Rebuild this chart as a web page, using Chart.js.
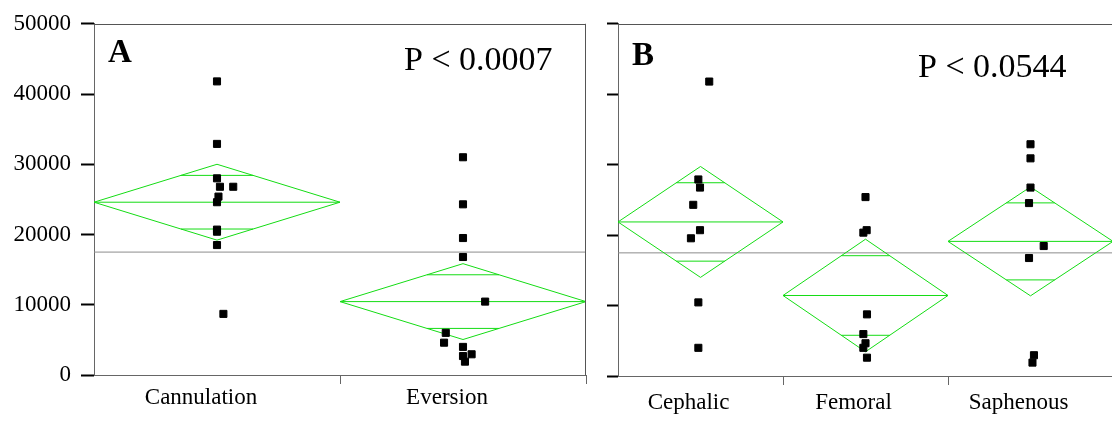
<!DOCTYPE html>
<html>
<head>
<meta charset="utf-8">
<script src="https://cdn.jsdelivr.net/npm/chart.js@4.4.1/dist/chart.umd.min.js"></script>
<style>
  html, body { margin: 0; padding: 0; background: #fff; }
  #wrap { position: relative; width: 1112px; height: 423px; overflow: hidden; background: #fff; }
  .panel { position: absolute; top: 0; }
</style>
</head>
<body>
<div id="wrap">
  <div class="panel" style="left:0;width:600px;height:423px"><canvas id="chartA" width="600" height="423"></canvas></div>
  <div class="panel" style="left:600px;width:530px;height:423px"><canvas id="chartB" width="530" height="423"></canvas></div>
</div>
<script>
// ---------- data ----------
const yTicks = [0, 10000, 20000, 30000, 40000, 50000];

// Panel A
const panelACategories = ['Cannulation', 'Eversion'];
const cannulationValues = [41800, 32900, 28000, 26800, 26800, 25400, 24600, 20700, 20400, 18500, 8700];
const cannulationJitter = [0, 0, 0, 0.012, 0.066, 0.006, 0, 0, 0, 0, 0.026];
const eversionValues = [31000, 24300, 19500, 16800, 10450, 6000, 4600, 4000, 2950, 2700, 1900];
const eversionJitter = [0, 0, 0, 0, 0.09, -0.07, -0.077, 0, 0.035, 0, 0.008];
const panelAMeans = [24600, 10450];
const panelACI = [5400, 5400];
const panelAGrandMean = 17500;
const panelAPText = 'P < 0.0007';

// Panel B
const panelBCategories = ['Cephalic', 'Femoral', 'Saphenous'];
const cephalicValues = [41800, 27900, 26750, 24300, 20700, 19550, 10450, 4000];
const cephalicJitter = [0.053, -0.013, -0.003, -0.044, -0.003, -0.058, -0.013, -0.013];
const femoralValues = [25400, 20700, 20350, 8750, 5950, 4650, 4000, 2600];
const femoralJitter = [0, 0.007, -0.013, 0.009, -0.013, 0, -0.013, 0.009];
const saphenousValues = [32900, 30900, 26750, 24550, 18450, 16750, 2950, 1900];
const saphenousJitter = [0, 0, 0, -0.009, 0.08, -0.009, 0.021, 0.012];
const panelBMeans = [21870, 11430, 19110];
const panelBCI = [7870, 7990, 7730];
const panelBGrandMean = 17480;
const panelBPText = 'P < 0.0544';

// ---------- styling ----------
const FONT = '"Liberation Serif", "Times New Roman", Times, serif';
const GREEN = 'rgb(20,220,20)';
const GRAY_LINE = '#8c8c8c';
const AXIS = '#666';

const annotPlugin = {
  id: 'annot',
  afterDraw(chart, args, o) {
    const { ctx, chartArea: a } = chart;
    ctx.save();
    ctx.strokeStyle = o.frameColor;
    ctx.lineWidth = 1;
    ctx.beginPath();
    ctx.moveTo(a.left, Math.round(a.top) + 0.5);
    ctx.lineTo(a.right, Math.round(a.top) + 0.5);
    if (o.rightBorder) {
      ctx.moveTo(Math.round(a.right) - 0.5, a.top);
      ctx.lineTo(Math.round(a.right) - 0.5, a.bottom);
    }
    ctx.stroke();
    ctx.fillStyle = '#000';
    ctx.textAlign = 'left';
    ctx.textBaseline = 'alphabetic';
    ctx.font = 'bold ' + o.letterSize + 'px ' + FONT;
    ctx.fillText(o.letter, o.letterX, o.letterY);
    ctx.font = o.pSize + 'px ' + FONT;
    ctx.fillText(o.pText, o.pX, o.pY);
    ctx.restore();
  }
};

function lineDs(points, color) {
  return {
    data: points, showLine: true, borderColor: color, borderWidth: 1,
    pointRadius: 0, fill: false, tension: 0, clip: false
  };
}

function buildDatasets(groups, jitters, means, cis, grandMean) {
  const ds = [];
  const pts = [];
  groups.forEach((vals, i) => {
    vals.forEach((v, k) => pts.push({ x: i + jitters[i][k], y: v }));
  });
  ds.push({
    data: pts, pointStyle: 'rect', pointRadius: 5, backgroundColor: '#000',
    borderColor: '#000', borderWidth: 1, showLine: false, clip: false
  });
  means.forEach((m, i) => {
    const ci = cis[i];
    const ov = ci / Math.SQRT2;
    const half = 0.5 * (1 - 1 / Math.SQRT2);
    ds.push(lineDs([{x:i-0.5,y:m},{x:i,y:m+ci},{x:i+0.5,y:m},{x:i,y:m-ci},{x:i-0.5,y:m}], GREEN));
    ds.push(lineDs([{x:i-0.5,y:m},{x:i+0.5,y:m}], GREEN));
    ds.push(lineDs([{x:i-half,y:m+ov},{x:i+half,y:m+ov}], GREEN));
    ds.push(lineDs([{x:i-half,y:m-ov},{x:i+half,y:m-ov}], GREEN));
  });
  ds.push(lineDs([{x:-0.5,y:grandMean},{x:means.length-0.5,y:grandMean}], GRAY_LINE));
  return ds;
}

function makeChart(canvasId, cfg) {
  const n = cfg.categories.length;
  return new Chart(document.getElementById(canvasId), {
    type: 'scatter',
    data: { datasets: buildDatasets(cfg.groups, cfg.jitters, cfg.means, cfg.cis, cfg.grandMean) },
    options: {
      responsive: false, animation: false, devicePixelRatio: 1,
      layout: { padding: cfg.padding },
      plugins: {
        legend: { display: false }, tooltip: { enabled: false },
        annot: cfg.annot
      },
      scales: {
        x: {
          type: 'linear', min: -0.5, max: n - 0.5,
          afterBuildTicks: (s) => {
            const t = [];
            for (let i = 0; i <= 2 * n; i++) t.push({ value: -0.5 + i * 0.5 });
            s.ticks = t;
          },
          afterFit: (s) => { s.height = cfg.xHeight; },
          ticks: {
            autoSkip: false, maxRotation: 0, minRotation: 0,
            padding: 0, labelOffset: cfg.labelOffset, color: '#000',
            font: { family: FONT, size: 23, lineHeight: cfg.xLineHeight },
            callback: (v) => Number.isInteger(v) ? cfg.categories[v] : ''
          },
          grid: {
            drawOnChartArea: false, drawTicks: true, tickLength: 9, tickWidth: 1,
            tickColor: (c) => (c.tick && !Number.isInteger(c.tick.value) && c.tick.value > -0.5) ? AXIS : 'rgba(0,0,0,0)'
          },
          border: { display: true, color: AXIS, width: 1 }
        },
        y: {
          type: 'linear', min: 0, max: 50000,
          afterBuildTicks: (s) => { s.ticks = yTicks.map(v => ({ value: v })); },
          afterFit: (s) => { s.width = cfg.yWidth; },
          ticks: {
            padding: 10, color: '#000', font: { family: FONT, size: 23 },
            callback: (v) => cfg.showYLabels ? String(v) : ''
          },
          grid: { drawOnChartArea: false, drawTicks: true, tickLength: cfg.yTickLen, tickWidth: 2, tickColor: '#000' },
          border: { display: true, color: AXIS, width: 1 }
        }
      }
    },
    plugins: [annotPlugin]
  });
}

makeChart('chartA', {
  categories: panelACategories,
  groups: [cannulationValues, eversionValues],
  jitters: [cannulationJitter, eversionJitter],
  means: panelAMeans, cis: panelACI, grandMean: panelAGrandMean,
  padding: { top: 21, right: 14, left: 0, bottom: 0 },
  xHeight: 48, yWidth: 94, yTickLen: 13, showYLabels: true, xLineHeight: 1.2, labelOffset: -16,
  annot: { frameColor: '#555', rightBorder: true, letter: 'A', letterSize: 33, letterX: 108, letterY: 62,
           pText: panelAPText, pSize: 34, pX: 404, pY: 70 }
});

makeChart('chartB', {
  categories: panelBCategories,
  groups: [cephalicValues, femoralValues, saphenousValues],
  jitters: [cephalicJitter, femoralJitter, saphenousJitter],
  means: panelBMeans, cis: panelBCI, grandMean: panelBGrandMean,
  padding: { top: 23, right: 17, left: 0, bottom: 0 },
  xHeight: 47, yWidth: 18, yTickLen: 11, showYLabels: false, xLineHeight: 1.6, labelOffset: -12,
  annot: { frameColor: '#555', rightBorder: false, letter: 'B', letterSize: 33, letterX: 32, letterY: 65,
           pText: panelBPText, pSize: 34, pX: 318, pY: 77 }
});
</script>
</body>
</html>
